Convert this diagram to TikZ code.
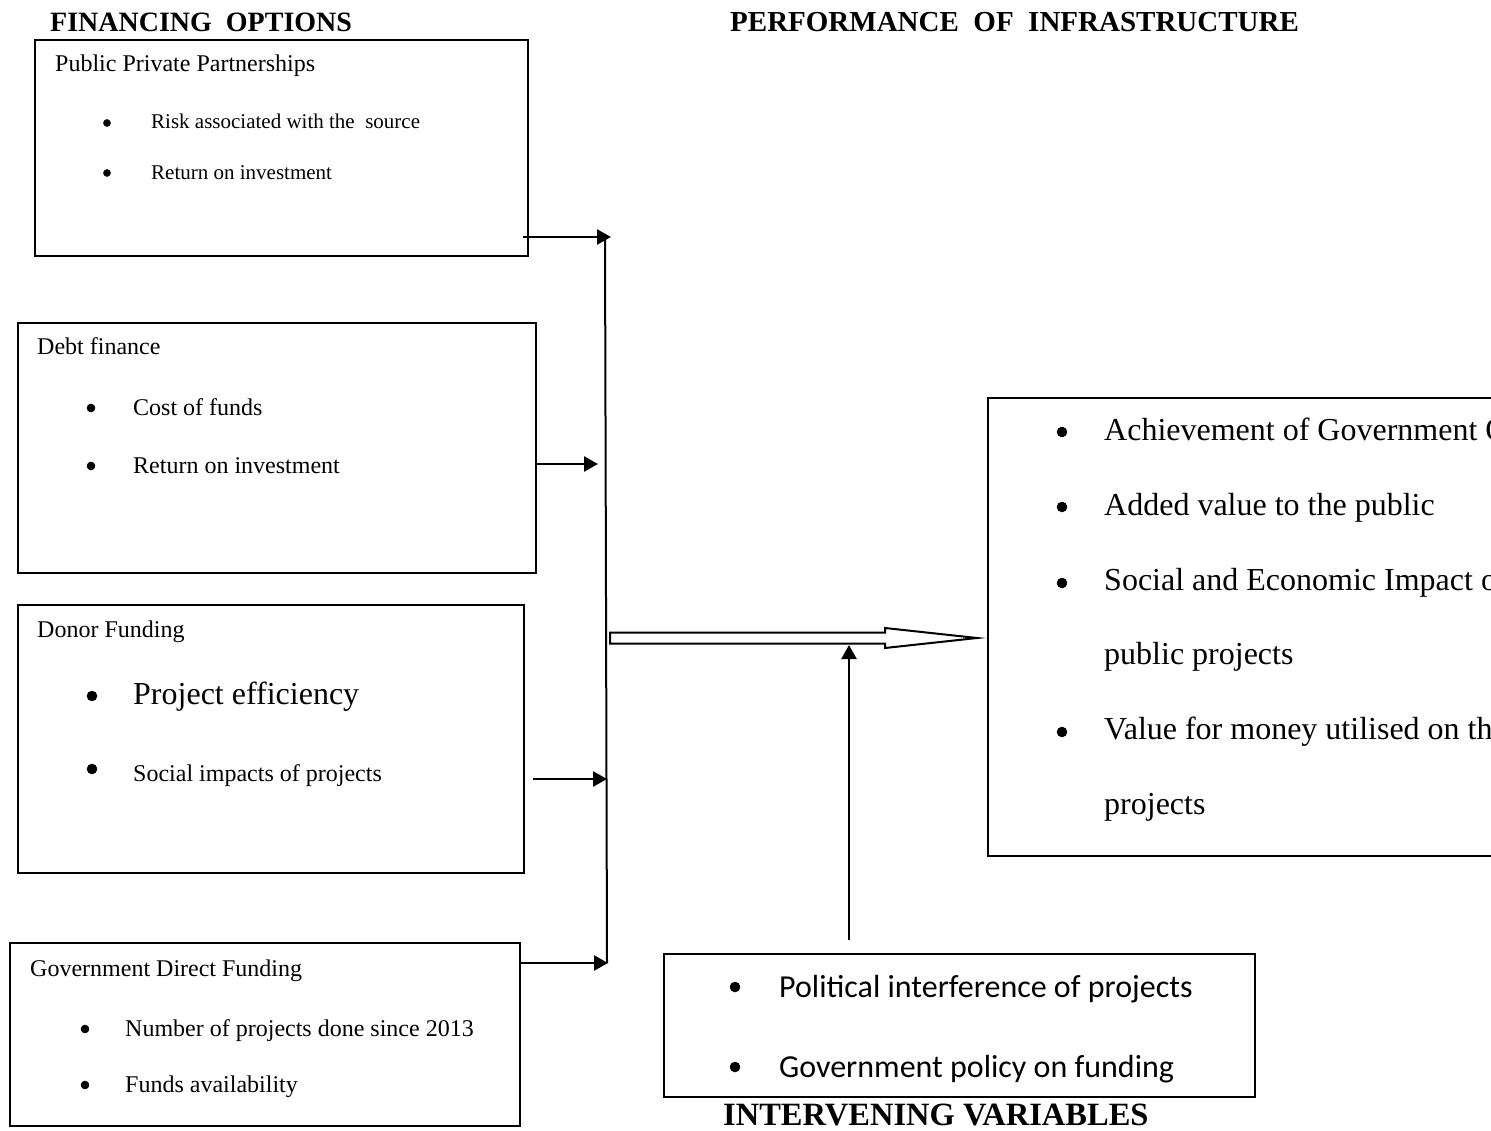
\documentclass[tikz,border=0pt]{standalone}
\usepackage{fontspec}
\setmainfont{Liberation Serif}
\newfontfamily\calfont{Carlito}
\usetikzlibrary{arrows.meta}
\begin{document}
\begin{tikzpicture}[x=1pt,y=-1pt,
  box/.style={draw, line width=2pt, anchor=north west, inner sep=0pt},
  txt/.style={anchor=base west, inner sep=0pt},
  bdot/.style={circle, fill=black, draw=black, line width=0.5pt, inner sep=0pt, minimum size=#1},
  bdot/.default=8pt,
  fa/.style={font=\fontsize{21}{25}\selectfont},
  fb/.style={font=\fontsize{24}{28}\selectfont},
  fc/.style={font=\fontsize{32}{38}\selectfont},
  fd/.style={font=\calfont\fontsize{32}{38}\selectfont},
  hd/.style={anchor=base west, inner sep=0pt, font=\bfseries\fontsize{28}{32}\selectfont},
  arr/.style={line width=2.5pt, -{Triangle[length=14pt,width=15pt]}},
  ln/.style={line width=2pt}]
\clip (0,0) rectangle (1491,1131);
% headings
\node[hd] (h1) at (50,32) {FINANCING\ \ OPTIONS};
\node[hd, font=\bfseries\fontsize{29}{33}\selectfont] (h2) at (730,32) {PERFORMANCE\ \ OF\ \ INFRASTRUCTURE};
\node[hd, font=\bfseries\fontsize{32.5}{37}\selectfont] (h3) at (723,1125) {INTERVENING VARIABLES};
% boxes
\node[box, minimum width=493pt, minimum height=216pt] (ppp) at (34,39) {};
\node[box, minimum width=518pt, minimum height=250pt] (debt) at (17,322) {};
\node[box, minimum width=506pt, minimum height=268pt] (donor) at (17,604) {};
\node[box, minimum width=510pt, minimum height=183pt] (gov) at (9,942) {};
\node[box, minimum width=520pt, minimum height=458pt] (perf) at (987,397) {};
\node[box, minimum width=591pt, minimum height=143pt] (inter) at (663,953) {};
% PPP
\node[txt,fb] (ppp0) at (55,72) {Public Private Partnerships};
\node[bdot=7pt] (pppb1) at (107,123) {};
\node[txt,fa] (ppp1) at (151,129) {Risk associated with the\ \ source};
\node[bdot=7pt] (pppb2) at (107,173) {};
\node[txt,fa] (ppp2) at (151,180) {Return on investment};
% Debt
\node[txt,fb] (debt0) at (37,355) {Debt finance};
\node[bdot=8pt] (debtb1) at (91,408) {};
\node[txt,fb] (debt1) at (133,415) {Cost of funds};
\node[bdot=8pt] (debtb2) at (91,466) {};
\node[txt,fb] (debt2) at (133,473) {Return on investment};
% Donor
\node[txt,fb] (don0) at (37,637) {Donor Funding};
\node[bdot=10pt] (donb1) at (92,696) {};
\node[txt,fc] (don1) at (133,704) {Project efficiency};
\node[bdot=10pt] (donb2) at (92,769) {};
\node[txt,fb] (don2) at (133,781) {Social impacts of projects};
% Government
\node[txt,fb] (gov0) at (30,976) {Government Direct Funding};
\node[bdot=8pt] (govb1) at (85,1029) {};
\node[txt,fb] (gov1) at (125,1036) {Number of projects done since 2013};
\node[bdot=8pt] (govb2) at (85,1085) {};
\node[txt,fb] (gov2) at (125,1092) {Funds availability};
% Performance
\node[bdot=10pt] (pb1) at (1062,432) {};
\node[txt,fc] (p1) at (1104,440) {Achievement of Government Objectives};
\node[bdot=10pt] (pb2) at (1062,507) {};
\node[txt,fc] (p2) at (1104,515) {Added value to the public};
\node[bdot=10pt] (pb3) at (1062,583) {};
\node[txt,fc] (p3) at (1104,590) {Social and Economic Impact of};
\node[txt,fc] (p3b) at (1104,664) {public projects};
\node[bdot=10pt] (pb4) at (1062,732) {};
\node[txt,fc] (p4) at (1104,739) {Value for money utilised on the};
\node[txt,fc] (p4b) at (1104,814) {projects};
% Intervening
\node[bdot=10pt] (ib1) at (735,987) {};
\node[txt,fd] (i1) at (779,997) {Political interference of projects};
\node[bdot=10pt] (ib2) at (735,1067) {};
\node[txt,fd] (i2) at (779,1077) {Government policy on funding};
% connector coordinates
\coordinate (s1) at (523,237);  \coordinate (e1) at (611,237);
\coordinate (s2) at (536,464);  \coordinate (e2) at (598,464);
\coordinate (s3) at (533,779);  \coordinate (e3) at (607,779);
\coordinate (s4) at (519,963);  \coordinate (e4) at (608,963);
\coordinate (vt) at (605,237);  \coordinate (vb) at (607,963);
\coordinate (us) at (849,940);  \coordinate (ue) at (849,645);
% connectors
\draw[arr] (s1) -- (e1);
\draw[arr] (s2) -- (e2);
\draw[arr] (s3) -- (e3);
\draw[arr] (s4) -- (e4);
\draw[ln] (vt) -- (vb);
\draw[arr] (us) -- (ue);
% block arrow
\draw[ln, fill=white, line join=miter] (610,632.5) -- (885,632.5) -- (885,628) -- (977,638) -- (885,648) -- (885,643.5) -- (610,643.5) -- cycle;
\end{tikzpicture}
\end{document}
